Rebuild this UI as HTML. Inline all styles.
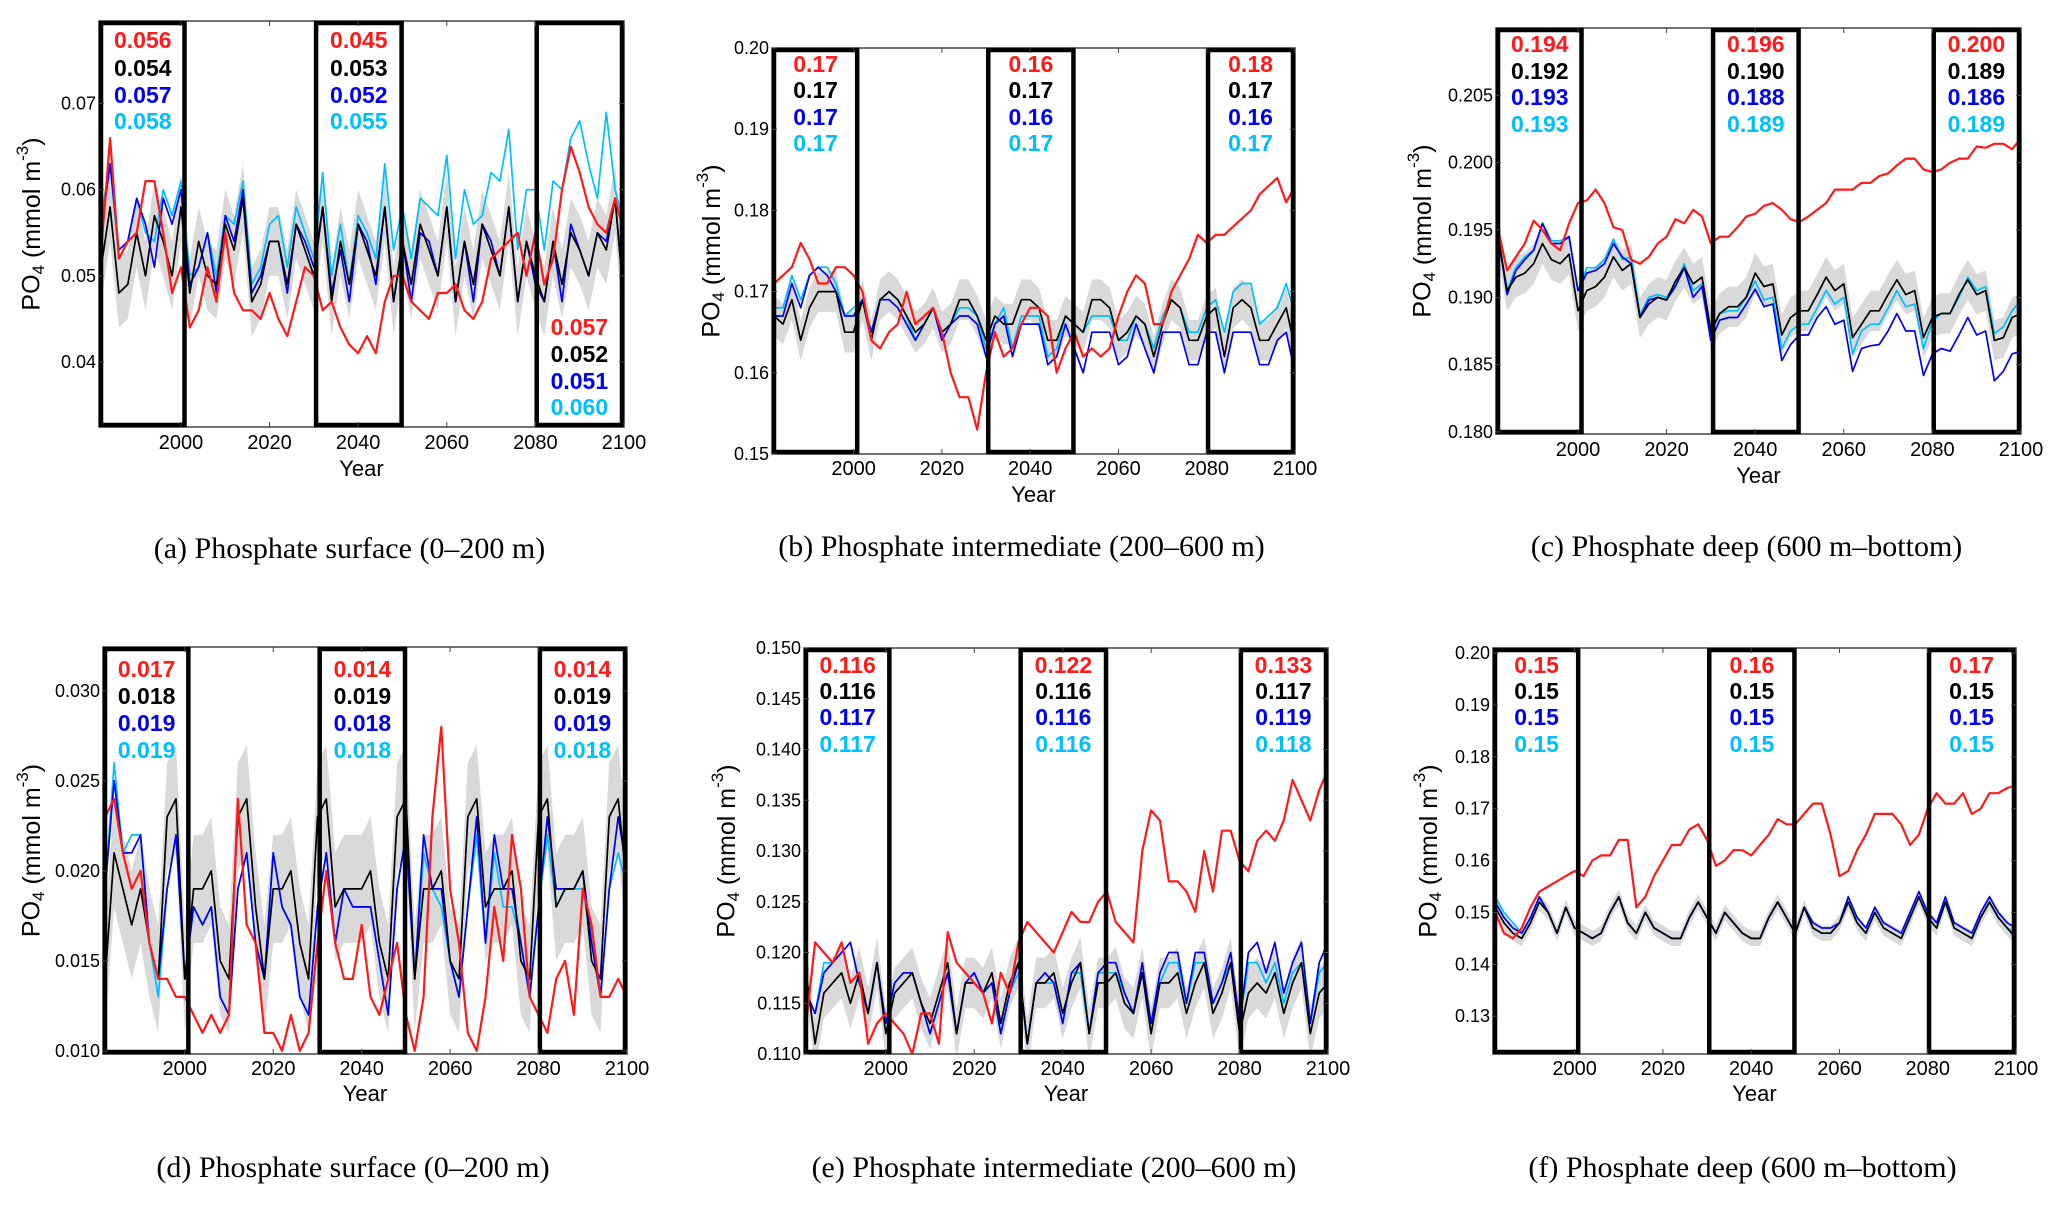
<!DOCTYPE html>
<html><head><meta charset="utf-8"><style>
html,body{margin:0;padding:0;background:#fff;}
svg{display:block;}
</style></head><body>
<svg id="fig" width="2067" height="1205" viewBox="0 0 2067 1205" xmlns="http://www.w3.org/2000/svg"></svg>
<script>
// ---- data (annual samples every 2 years, 1982..2100) ----
const years = [1982,1984,1986,1988,1990,1992,1994,1996,1998,2000,
2002,2004,2006,2008,2010,2012,2014,2016,2018,2020,
2022,2024,2026,2028,2030,2032,2034,2036,2038,2040,
2042,2044,2046,2048,2050,2052,2054,2056,2058,2060,
2062,2064,2066,2068,2070,2072,2074,2076,2078,2080,
2082,2084,2086,2088,2090,2092,2094,2096,2098,2100];
const xTicks = [2000,2020,2040,2060,2080,2100];
const boxYears = [[1981.5,2000.8],[2030.5,2049.8],[2080.3,2100]];

// panel a
const aRed = [0.053,0.066,0.052,0.054,0.055,0.061,0.061,0.055,0.048,0.051,
0.044,0.046,0.051,0.047,0.055,0.048,0.046,0.046,0.045,0.048,
0.045,0.043,0.047,0.051,0.050,0.046,0.047,0.044,0.042,0.041,
0.043,0.041,0.047,0.050,0.050,0.047,0.046,0.045,0.048,0.048,
0.049,0.046,0.045,0.047,0.052,0.053,0.054,0.055,0.050,0.055,
0.049,0.052,0.060,0.065,0.062,0.058,0.056,0.055,0.059,0.055];
const aBlack = [0.051,0.058,0.048,0.049,0.055,0.050,0.057,0.054,0.050,0.058,
0.048,0.054,0.050,0.049,0.056,0.053,0.059,0.047,0.049,0.054,
0.054,0.049,0.056,0.053,0.050,0.058,0.047,0.054,0.049,0.056,
0.053,0.050,0.058,0.047,0.054,0.049,0.056,0.053,0.050,0.058,
0.047,0.054,0.049,0.056,0.053,0.050,0.058,0.047,0.054,0.050,
0.047,0.054,0.049,0.055,0.053,0.050,0.055,0.053,0.059,0.047];
const aBlue = [0.055,0.063,0.053,0.054,0.059,0.056,0.051,0.059,0.056,0.060,
0.049,0.051,0.055,0.048,0.057,0.054,0.060,0.048,0.050,0.054,
0.054,0.048,0.056,0.054,0.051,0.058,0.048,0.053,0.047,0.056,
0.054,0.049,0.058,0.047,0.054,0.047,0.055,0.054,0.050,0.058,
0.047,0.054,0.047,0.056,0.054,0.050,0.058,0.047,0.054,0.049,
0.047,0.054,0.047,0.056,0.053,0.050,0.055,0.054,0.059,0.047];
const aCyan = [0.057,0.063,0.052,0.054,0.059,0.055,0.054,0.060,0.057,0.061,
0.050,0.051,0.055,0.050,0.057,0.056,0.061,0.049,0.051,0.056,
0.057,0.051,0.058,0.055,0.052,0.062,0.050,0.056,0.049,0.057,
0.055,0.052,0.063,0.053,0.058,0.052,0.059,0.058,0.057,0.064,
0.052,0.060,0.056,0.057,0.062,0.061,0.067,0.053,0.060,0.060,
0.053,0.061,0.060,0.066,0.068,0.063,0.059,0.069,0.060,0.056];
const aTicks = [0.04,0.05,0.06,0.07];
const aTickLabels = ["0.04","0.05","0.06","0.07"];
const aNotes = [["0.056","0.054","0.057","0.058"],["0.045","0.053","0.052","0.055"],["0.057","0.052","0.051","0.060"]];

// panel b
const bRed = [0.171,0.172,0.173,0.176,0.174,0.171,0.171,0.173,0.173,0.172,
0.170,0.164,0.163,0.165,0.166,0.170,0.166,0.167,0.168,0.165,
0.160,0.157,0.157,0.153,0.160,0.165,0.162,0.163,0.166,0.168,
0.168,0.167,0.160,0.163,0.165,0.162,0.163,0.162,0.163,0.167,
0.170,0.172,0.171,0.166,0.166,0.170,0.172,0.174,0.177,0.176,
0.177,0.177,0.178,0.179,0.180,0.182,0.183,0.184,0.181,0.183];
const bBlack = [0.167,0.166,0.169,0.164,0.168,0.170,0.170,0.170,0.165,0.165,
0.169,0.164,0.169,0.170,0.169,0.167,0.165,0.166,0.168,0.165,
0.166,0.169,0.169,0.167,0.164,0.167,0.166,0.166,0.169,0.169,
0.168,0.164,0.164,0.167,0.166,0.165,0.169,0.169,0.168,0.164,
0.165,0.167,0.166,0.162,0.166,0.169,0.168,0.164,0.164,0.167,
0.168,0.162,0.168,0.169,0.168,0.164,0.164,0.166,0.168,0.163];
const bBlue = [0.167,0.167,0.171,0.168,0.172,0.173,0.172,0.170,0.167,0.167,
0.169,0.165,0.169,0.169,0.168,0.166,0.164,0.166,0.168,0.164,
0.166,0.167,0.167,0.166,0.162,0.166,0.167,0.162,0.166,0.166,
0.166,0.161,0.162,0.166,0.163,0.160,0.165,0.165,0.165,0.161,
0.162,0.166,0.163,0.160,0.165,0.165,0.165,0.161,0.161,0.165,
0.165,0.160,0.165,0.165,0.165,0.161,0.161,0.164,0.165,0.160];
const bCyan = [0.168,0.168,0.172,0.169,0.172,0.173,0.173,0.171,0.167,0.168,
0.169,0.165,0.169,0.170,0.169,0.167,0.164,0.166,0.168,0.165,
0.166,0.168,0.168,0.167,0.163,0.166,0.168,0.163,0.167,0.167,
0.167,0.162,0.163,0.167,0.166,0.165,0.167,0.167,0.167,0.164,
0.164,0.167,0.166,0.163,0.167,0.169,0.168,0.165,0.165,0.168,
0.169,0.165,0.170,0.171,0.171,0.166,0.167,0.168,0.171,0.167];
const bTicks = [0.15,0.16,0.17,0.18,0.19,0.20];
const bTickLabels = ["0.15","0.16","0.17","0.18","0.19","0.20"];
const bNotes = [["0.17","0.17","0.17","0.17"],["0.16","0.17","0.16","0.17"],["0.18","0.17","0.16","0.17"]];

// panel c
const cRed = [0.1950,0.1920,0.1930,0.1940,0.1957,0.1950,0.1940,0.1935,0.1955,0.1970,
0.1972,0.1980,0.1970,0.1952,0.1950,0.1928,0.1925,0.1930,0.1940,0.1945,
0.1958,0.1955,0.1965,0.1960,0.1940,0.1945,0.1945,0.1952,0.1960,0.1962,
0.1968,0.1970,0.1965,0.1958,0.1956,0.1960,0.1965,0.1970,0.1980,0.1980,
0.1980,0.1985,0.1985,0.1990,0.1992,0.1998,0.2003,0.2003,0.1995,0.1993,
0.1995,0.2000,0.2003,0.2003,0.2012,0.2011,0.2014,0.2014,0.2010,0.2018];
const cBlack = [0.1945,0.1905,0.1915,0.1918,0.1925,0.1940,0.1928,0.1925,0.1932,0.1890,
0.1905,0.1908,0.1915,0.1930,0.1920,0.1925,0.1885,0.1895,0.1900,0.1898,
0.1912,0.1922,0.1910,0.1915,0.1875,0.1888,0.1893,0.1893,0.1900,0.1918,
0.1908,0.1910,0.1872,0.1885,0.1890,0.1890,0.1902,0.1915,0.1905,0.1910,
0.1870,0.1880,0.1890,0.1890,0.1902,0.1913,0.1902,0.1905,0.1870,0.1885,
0.1888,0.1888,0.1902,0.1913,0.1902,0.1905,0.1868,0.1870,0.1885,0.1888];
const cBlue = [0.1945,0.1902,0.1920,0.1928,0.1935,0.1955,0.1940,0.1940,0.1945,0.1905,
0.1918,0.1920,0.1925,0.1940,0.1930,0.1925,0.1885,0.1898,0.1900,0.1898,
0.1908,0.1922,0.1900,0.1908,0.1868,0.1883,0.1885,0.1885,0.1895,0.1906,
0.1893,0.1895,0.1853,0.1865,0.1872,0.1872,0.1885,0.1893,0.1880,0.1883,
0.1845,0.1862,0.1864,0.1865,0.1875,0.1888,0.1875,0.1875,0.1842,0.1858,
0.1862,0.1860,0.1872,0.1885,0.1872,0.1875,0.1838,0.1845,0.1858,0.1860];
const cCyan = [0.1945,0.1905,0.1922,0.1930,0.1935,0.1955,0.1942,0.1942,0.1945,0.1905,
0.1922,0.1922,0.1928,0.1943,0.1928,0.1930,0.1887,0.1900,0.1902,0.1900,
0.1910,0.1925,0.1905,0.1910,0.1873,0.1888,0.1890,0.1890,0.1900,0.1912,
0.1898,0.1900,0.1862,0.1875,0.1880,0.1880,0.1892,0.1905,0.1895,0.1900,
0.1858,0.1875,0.1880,0.1880,0.1892,0.1905,0.1893,0.1895,0.1862,0.1882,
0.1888,0.1888,0.1900,0.1915,0.1905,0.1908,0.1873,0.1878,0.1890,0.1898];
const cTicks = [0.180,0.185,0.190,0.195,0.200,0.205];
const cTickLabels = ["0.180","0.185","0.190","0.195","0.200","0.205"];
const cNotes = [["0.194","0.192","0.193","0.193"],["0.196","0.190","0.188","0.189"],["0.200","0.189","0.186","0.189"]];

// panel d
const dRed = [0.023,0.024,0.021,0.019,0.020,0.016,0.014,0.014,0.013,0.013,
0.012,0.011,0.012,0.011,0.012,0.024,0.017,0.016,0.011,0.011,
0.010,0.012,0.010,0.011,0.016,0.020,0.016,0.014,0.014,0.017,
0.013,0.012,0.014,0.016,0.012,0.010,0.013,0.023,0.028,0.019,
0.016,0.011,0.010,0.013,0.018,0.015,0.022,0.019,0.013,0.012,
0.011,0.014,0.015,0.012,0.019,0.017,0.013,0.013,0.014,0.013];
const dBlack = [0.014,0.021,0.019,0.017,0.019,0.016,0.014,0.023,0.024,0.014,
0.019,0.019,0.020,0.015,0.014,0.023,0.024,0.018,0.014,0.019,
0.019,0.020,0.016,0.014,0.023,0.024,0.018,0.019,0.019,0.019,
0.020,0.016,0.014,0.023,0.024,0.014,0.019,0.019,0.020,0.015,
0.014,0.023,0.024,0.018,0.019,0.019,0.020,0.015,0.014,0.023,
0.024,0.018,0.019,0.019,0.020,0.015,0.014,0.023,0.024,0.019];
const dBlue = [0.019,0.025,0.021,0.021,0.022,0.016,0.014,0.019,0.022,0.014,
0.018,0.017,0.018,0.013,0.012,0.019,0.021,0.016,0.014,0.021,
0.018,0.017,0.013,0.012,0.018,0.021,0.016,0.019,0.018,0.018,
0.018,0.015,0.012,0.019,0.022,0.014,0.022,0.019,0.019,0.015,
0.013,0.018,0.023,0.016,0.022,0.019,0.019,0.016,0.013,0.018,
0.023,0.019,0.019,0.019,0.020,0.016,0.013,0.019,0.023,0.020];
const dCyan = [0.019,0.026,0.021,0.022,0.022,0.016,0.013,0.019,0.022,0.014,
0.018,0.017,0.018,0.013,0.012,0.019,0.021,0.016,0.014,0.021,
0.018,0.017,0.013,0.012,0.018,0.021,0.016,0.019,0.018,0.018,
0.018,0.015,0.012,0.019,0.022,0.014,0.021,0.019,0.018,0.015,
0.013,0.018,0.022,0.016,0.021,0.018,0.018,0.016,0.013,0.018,
0.022,0.018,0.019,0.019,0.019,0.016,0.013,0.019,0.021,0.019];
const dTicks = [0.010,0.015,0.020,0.025,0.030];
const dTickLabels = ["0.010","0.015","0.020","0.025","0.030"];
const dNotes = [["0.017","0.018","0.019","0.019"],["0.014","0.019","0.018","0.018"],["0.014","0.019","0.019","0.018"]];

// panel e
const eRed = [0.113,0.121,0.120,0.119,0.121,0.117,0.118,0.111,0.113,0.114,
0.113,0.112,0.110,0.114,0.114,0.111,0.122,0.119,0.118,0.117,
0.116,0.113,0.118,0.116,0.121,0.123,0.122,0.121,0.120,0.122,
0.124,0.123,0.123,0.125,0.126,0.123,0.122,0.121,0.130,0.134,
0.133,0.127,0.127,0.126,0.124,0.130,0.126,0.132,0.132,0.129,
0.128,0.131,0.132,0.131,0.133,0.137,0.135,0.133,0.136,0.138];
const eBlack = [0.118,0.111,0.116,0.117,0.118,0.115,0.118,0.114,0.119,0.112,
0.116,0.117,0.118,0.115,0.113,0.116,0.119,0.112,0.117,0.117,
0.116,0.118,0.113,0.117,0.119,0.111,0.117,0.117,0.118,0.114,
0.117,0.119,0.112,0.117,0.117,0.118,0.115,0.114,0.118,0.112,
0.117,0.117,0.118,0.114,0.117,0.119,0.114,0.116,0.119,0.112,
0.116,0.117,0.116,0.118,0.114,0.117,0.119,0.112,0.116,0.117];
const eBlue = [0.116,0.114,0.118,0.119,0.120,0.121,0.117,0.114,0.119,0.113,
0.117,0.118,0.118,0.115,0.112,0.115,0.118,0.112,0.117,0.118,
0.116,0.117,0.112,0.116,0.119,0.111,0.117,0.118,0.117,0.113,
0.118,0.119,0.112,0.118,0.119,0.119,0.116,0.114,0.119,0.113,
0.118,0.120,0.120,0.115,0.120,0.120,0.115,0.117,0.120,0.113,
0.120,0.121,0.118,0.121,0.116,0.119,0.121,0.113,0.119,0.121];
const eCyan = [0.116,0.114,0.119,0.119,0.120,0.121,0.117,0.114,0.119,0.113,
0.117,0.118,0.118,0.115,0.112,0.115,0.118,0.112,0.117,0.118,
0.116,0.117,0.112,0.116,0.118,0.111,0.117,0.117,0.117,0.113,
0.118,0.118,0.112,0.118,0.118,0.118,0.116,0.114,0.118,0.113,
0.117,0.119,0.119,0.115,0.119,0.119,0.115,0.117,0.119,0.113,
0.119,0.119,0.117,0.119,0.115,0.118,0.119,0.113,0.118,0.119];
const eTicks = [0.110,0.115,0.120,0.125,0.130,0.135,0.140,0.145,0.150];
const eTickLabels = ["0.110","0.115","0.120","0.125","0.130","0.135","0.140","0.145","0.150"];
const eNotes = [["0.116","0.116","0.117","0.117"],["0.122","0.116","0.116","0.116"],["0.133","0.117","0.119","0.118"]];

// panel f
const fRed = [0.150,0.146,0.145,0.147,0.151,0.154,0.155,0.156,0.157,0.158,
0.157,0.160,0.161,0.161,0.164,0.164,0.151,0.153,0.157,0.160,
0.163,0.163,0.166,0.167,0.164,0.159,0.160,0.162,0.162,0.161,
0.163,0.165,0.168,0.167,0.167,0.169,0.171,0.171,0.165,0.157,
0.158,0.162,0.165,0.169,0.169,0.169,0.167,0.163,0.165,0.170,
0.173,0.171,0.171,0.173,0.169,0.170,0.173,0.173,0.174,0.1745];
const fBlack = [0.151,0.148,0.146,0.145,0.148,0.152,0.150,0.146,0.151,0.147,
0.146,0.145,0.146,0.150,0.153,0.148,0.146,0.150,0.147,0.146,
0.145,0.145,0.149,0.152,0.149,0.146,0.150,0.148,0.146,0.145,
0.145,0.149,0.152,0.149,0.146,0.151,0.147,0.146,0.146,0.148,
0.152,0.148,0.146,0.150,0.147,0.146,0.145,0.149,0.153,0.149,
0.147,0.152,0.147,0.146,0.145,0.149,0.152,0.149,0.147,0.145];
const fBlue = [0.152,0.149,0.147,0.146,0.149,0.153,0.150,0.146,0.151,0.147,
0.146,0.145,0.146,0.150,0.153,0.148,0.146,0.150,0.147,0.146,
0.145,0.145,0.149,0.152,0.149,0.146,0.150,0.148,0.146,0.145,
0.145,0.149,0.152,0.149,0.146,0.151,0.148,0.147,0.147,0.148,
0.153,0.149,0.147,0.151,0.148,0.147,0.146,0.150,0.154,0.150,
0.148,0.153,0.148,0.147,0.146,0.150,0.153,0.150,0.148,0.147];
const fCyan = [0.153,0.150,0.148,0.146,0.149,0.153,0.150,0.146,0.151,0.147,
0.146,0.145,0.146,0.150,0.153,0.148,0.146,0.150,0.147,0.146,
0.145,0.145,0.149,0.152,0.149,0.146,0.150,0.148,0.146,0.145,
0.145,0.149,0.152,0.149,0.146,0.151,0.147,0.146,0.146,0.148,
0.152,0.148,0.146,0.150,0.147,0.146,0.145,0.149,0.153,0.149,
0.147,0.152,0.147,0.146,0.145,0.149,0.152,0.149,0.147,0.146];
const fTicks = [0.13,0.14,0.15,0.16,0.17,0.18,0.19,0.20];
const fTickLabels = ["0.13","0.14","0.15","0.16","0.17","0.18","0.19","0.20"];
const fNotes = [["0.15","0.15","0.15","0.15"],["0.16","0.15","0.15","0.15"],["0.17","0.15","0.15","0.15"]];

const spreads = {a:0.004,b:0.0025,c:0.0015,d:0.003,e:0.0025,f:0.0015};
const captions = {a:"(a) Phosphate surface (0–200 m)",b:"(b) Phosphate intermediate (200–600 m)",c:"(c) Phosphate deep (600 m–bottom)",
d:"(d) Phosphate surface (0–200 m)",e:"(e) Phosphate intermediate (200–600 m)",f:"(f) Phosphate deep (600 m–bottom)"};

// ---- layout ----
const panels = [
 {id:'a',L:99,R:624,T:21,B:427,ymin:0.03244,ymax:0.0796,red:aRed,black:aBlack,blue:aBlue,cyan:aCyan,ticks:aTicks,tl:aTickLabels,notes:aNotes,
  noteY:[48,76,103,129],noteY3:[335,362,389,415],ytx:33,tlY:449,yearY:476,capY:558},
 {id:'b',L:772,R:1295,T:48,B:454,ymin:0.15,ymax:0.20,red:bRed,black:bBlack,blue:bBlue,cyan:bCyan,ticks:bTicks,tl:bTickLabels,notes:bNotes,
  noteY:[72,98,125,151],ytx:713,tlY:475,yearY:502,capY:556},
 {id:'c',L:1496,R:2021,T:28,B:434,ymin:0.17985,ymax:0.2100,red:cRed,black:cBlack,blue:cBlue,cyan:cCyan,ticks:cTicks,tl:cTickLabels,notes:cNotes,
  noteY:[52,79,105,132],ytx:1424,tlY:456,yearY:483,capY:556},
 {id:'d',L:103,R:627,T:647,B:1054,ymin:0.00983,ymax:0.03244,red:dRed,black:dBlack,blue:dBlue,cyan:dCyan,ticks:dTicks,tl:dTickLabels,notes:dNotes,
  noteY:[677,704,731,758],ytx:33,tlY:1075,yearY:1101,capY:1177},
 {id:'e',L:804,R:1328,T:648,B:1054,ymin:0.110,ymax:0.150,red:eRed,black:eBlack,blue:eBlue,cyan:eCyan,ticks:eTicks,tl:eTickLabels,notes:eNotes,
  noteY:[673,699,725,752],ytx:728,tlY:1075,yearY:1101,capY:1177},
 {id:'f',L:1493,R:2016,T:648,B:1054,ymin:0.1227,ymax:0.2010,red:fRed,black:fBlack,blue:fBlue,cyan:fCyan,ticks:fTicks,tl:fTickLabels,notes:fNotes,
  noteY:[673,699,725,752],ytx:1430,tlY:1075,yearY:1101,capY:1177}
];
const XMIN=1981.5, XMAX=2100;
const COL={red:'#ff1a1a',black:'#000000',blue:'#0000ee',cyan:'#00bfff'};
const NS='http://www.w3.org/2000/svg';
const svg=document.getElementById('fig');
function mk(tag,attrs,parent){const e=document.createElementNS(NS,tag);for(const k in attrs)e.setAttribute(k,attrs[k]);(parent||svg).appendChild(e);return e;}

panels.forEach(p=>{
  const g=mk('g',{});
  
  
  const xs=y=>p.L+(y-XMIN)/(XMAX-XMIN)*(p.R-p.L);
  const ys=v=>p.B-(v-p.ymin)/(p.ymax-p.ymin)*(p.B-p.T);
  const clip=mk('clipPath',{id:'clip'+p.id},g);
  mk('rect',{x:p.L,y:p.T,width:p.R-p.L,height:p.B-p.T},clip);
  const plot=mk('g',{'clip-path':'url(#clip'+p.id+')'},g);
  const sp=spreads[p.id];
  const n=Math.min(years.length,p.black.length);
  let up=[],lo=[];
  for(let i=0;i<n;i++){up.push(xs(years[i]).toFixed(1)+','+ys(p.black[i]+sp).toFixed(1));lo.unshift(xs(years[i]).toFixed(1)+','+ys(p.black[i]-sp).toFixed(1));}
  const band=mk('polygon',{points:up.concat(lo).join(' '),fill:'#d9d9d9',stroke:'none'},plot);
  
  
  ['cyan','blue','black','red'].forEach(s=>{
    const arr=p[s];const m=Math.min(years.length,arr.length);
    let pts=[];for(let i=0;i<m;i++)pts.push(xs(years[i]).toFixed(1)+','+ys(arr[i]).toFixed(1));
    const l=mk('polyline',{points:pts.join(' '),fill:'none',stroke:COL[s],'stroke-width':s==='red'?2.2:1.7,'stroke-linejoin':'round'},plot);
    
    
  });
  const fr=mk('rect',{x:p.L,y:p.T,width:p.R-p.L,height:p.B-p.T,fill:'none',stroke:'#444','stroke-width':1.5},g);
  
  
  boxYears.forEach((b,k)=>{
    const x1=Math.max(xs(b[0]),p.L+2),x2=Math.min(xs(b[1]),p.R-2);
    const r=mk('rect',{x:x1,y:p.T+2,width:x2-x1,height:p.B-p.T-4,fill:'none',stroke:'#000','stroke-width':4.5},g);
    
    
    const cx=(x1+x2)/2;
    const ny=(p.id==='a'&&k===2)?p.noteY3:p.noteY;
    ['red','black','blue','cyan'].forEach((s,j)=>{
      const t=mk('text',{x:cx,y:ny[j],'text-anchor':'middle','font-family':'Liberation Sans, sans-serif','font-weight':'bold','font-size':23,fill:COL[s]},g);
      t.textContent=p.notes[k][j];
      
      
    });
  });
  p.ticks.forEach((v,i)=>{
    const y=ys(v);
    mk('line',{x1:p.L,x2:p.L+5,y1:y,y2:y,stroke:'#444','stroke-width':1},g);
    mk('line',{x1:p.R,x2:p.R-5,y1:y,y2:y,stroke:'#444','stroke-width':1},g);
    const t=mk('text',{x:p.L-3,y:y+6,'text-anchor':'end','font-family':'Liberation Sans, sans-serif','font-size':18,fill:'#000'},g);
    t.textContent=p.tl[i];
    
    
  });
  xTicks.forEach(v=>{
    const x=xs(v);
    mk('line',{x1:x,x2:x,y1:p.B,y2:p.B-5,stroke:'#444','stroke-width':1},g);
    mk('line',{x1:x,x2:x,y1:p.T,y2:p.T+5,stroke:'#444','stroke-width':1},g);
    const t=mk('text',{x:x,y:p.tlY,'text-anchor':'middle','font-family':'Liberation Sans, sans-serif','font-size':20,fill:'#000'},g);
    t.textContent=String(v);
    
    
  });
  const xt=mk('text',{x:(p.L+p.R)/2,y:p.yearY,'text-anchor':'middle','font-family':'Liberation Sans, sans-serif','font-size':22,fill:'#000'},g);
  xt.textContent='Year';
  
  
  const cy=(p.T+p.B)/2;
  const yt=mk('text',{x:p.ytx,y:cy,'text-anchor':'middle','font-family':'Liberation Sans, sans-serif','font-size':25,fill:'#000',transform:'rotate(-90 '+p.ytx+' '+cy+')','dominant-baseline':'middle'},g);
  yt.innerHTML='PO<tspan font-size="17" dy="7">4</tspan><tspan dy="-7"> (mmol m</tspan><tspan font-size="17" dy="-9">-3</tspan><tspan dy="9">)</tspan>';
  
  
  const cap=mk('text',{x:(p.L+p.R)/2-12,y:p.capY,'text-anchor':'middle','font-family':'Liberation Serif, serif','font-size':30,fill:'#000'},g);
  cap.textContent=captions[p.id];
  
  
});
</script>
</body></html>
